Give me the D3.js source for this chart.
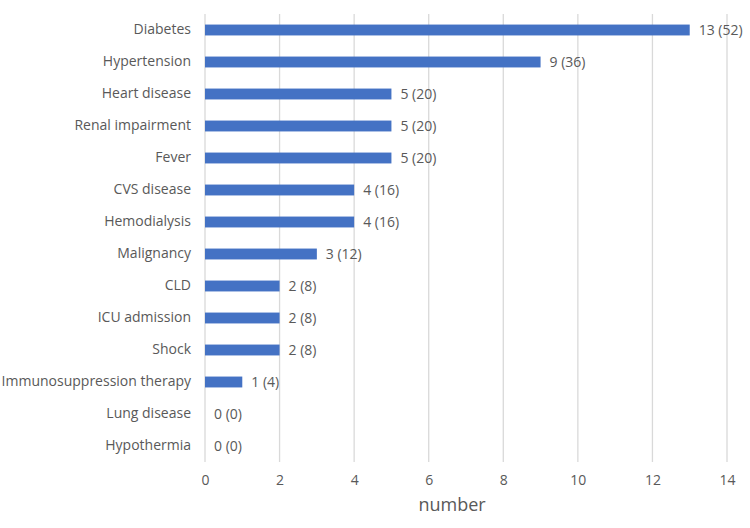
<!DOCTYPE html>
<html>
<head>
<meta charset="utf-8">
<script src="https://cdn.jsdelivr.net/npm/d3@7"></script>
<style>
  body { margin: 0; background: #fff; }
  svg text { font-family: "Open Sans", "Noto Sans", sans-serif; fill: #595959; }
  .grid line { stroke: #d9d9d9; stroke-width: 1.3; }
  .axis path, .axis line { display: none; }
</style>
</head>
<body>
<div id="chart"></div>
<script>
"use strict";

var width = 750;
var height = 528;

var categories = ["Diabetes", "Hypertension", "Heart disease", "Renal impairment", "Fever",
  "CVS disease", "Hemodialysis", "Malignancy", "CLD", "ICU admission", "Shock",
  "Immunosuppression therapy", "Lung disease", "Hypothermia"];
var counts = [13, 9, 5, 5, 5, 4, 4, 3, 2, 2, 2, 1, 0, 0];
var percents = [52, 36, 20, 20, 20, 16, 16, 12, 8, 8, 8, 4, 0, 0];
var xTicks = [0, 2, 4, 6, 8, 10, 12, 14];

var xScale = d3.scaleLinear()
  .domain([0, 14])
  .range([205, 727]);

var yScale = d3.scaleBand()
  .domain(d3.range(categories.length))
  .range([14, 462])
  .paddingInner(0.66)
  .paddingOuter(0.33);

var svg = d3.select("#chart")
  .append("svg")
  .attr("width", width)
  .attr("height", height);

// vertical gridlines
svg.append("g")
  .attr("class", "grid")
  .selectAll("line")
  .data(xTicks)
  .enter()
  .append("line")
  .attr("x1", function(d) { return xScale(d); })
  .attr("x2", function(d) { return xScale(d); })
  .attr("y1", 14)
  .attr("y2", 462);

// bars
svg.selectAll("rect.bar")
  .data(counts)
  .enter()
  .append("rect")
  .attr("class", "bar")
  .attr("x", xScale(0))
  .attr("y", function(d, i) { return yScale(i); })
  .attr("width", function(d) { return xScale(d) - xScale(0); })
  .attr("height", yScale.bandwidth())
  .attr("fill", "#4472c4");

// value labels
svg.selectAll("text.value")
  .data(counts)
  .enter()
  .append("text")
  .attr("class", "value")
  .attr("x", function(d) { return xScale(d) + 9; })
  .attr("y", function(d, i) { return yScale(i) + yScale.bandwidth() / 2; })
  .attr("dy", "0.35em")
  .style("font-size", "14px")
  .text(function(d, i) { return d + " (" + percents[i] + ")"; });

// category axis
var yAxis = d3.axisLeft(yScale)
  .tickSize(0)
  .tickPadding(14)
  .tickFormat(function(i) { return categories[i]; });

svg.append("g")
  .attr("class", "axis")
  .attr("transform", "translate(" + xScale(0) + ",0)")
  .call(yAxis)
  .selectAll("text")
  .style("font-size", "14px");

// value axis
var xAxis = d3.axisBottom(xScale)
  .tickValues(xTicks)
  .tickSize(0)
  .tickPadding(13);

svg.append("g")
  .attr("class", "axis")
  .attr("transform", "translate(0,462)")
  .call(xAxis)
  .selectAll("text")
  .style("font-size", "14px");

svg.append("text")
  .attr("x", 452)
  .attr("y", 511)
  .attr("text-anchor", "middle")
  .style("font-size", "18px")
  .text("number");
</script>
</body>
</html>
